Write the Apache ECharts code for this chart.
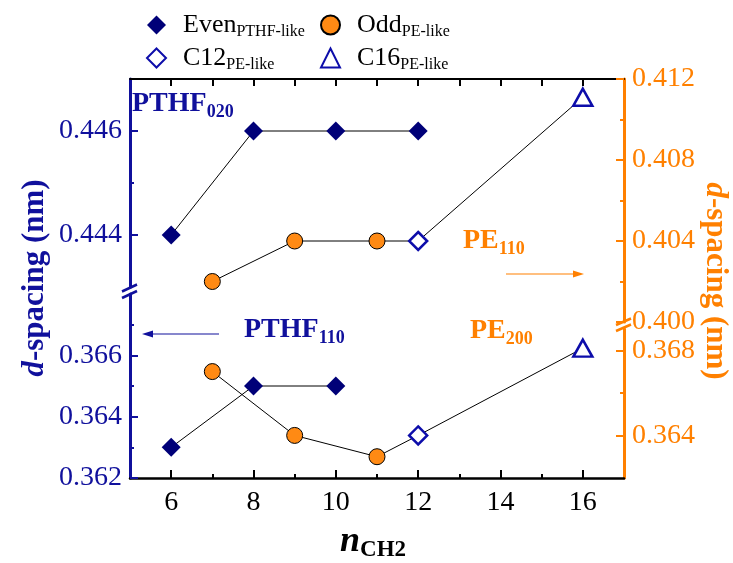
<!DOCTYPE html>
<html>
<head>
<meta charset="utf-8">
<script src="https://cdn.jsdelivr.net/npm/echarts@6.0.0/dist/echarts.min.js"></script>
<style>
  html, body { margin: 0; padding: 0; background: #fff; }
  #chart { width: 733px; height: 563px; }
</style>
</head>
<body>
<div id="chart"></div>
<script>
  // n_CH2 values and d-spacings (nm)
  var nEven = [6, 8, 10, 12];
  var evenPTHF020 = [0.444, 0.446, 0.446, 0.446];
  var nEvenLow = [6, 8, 10];
  var evenPTHF110 = [0.363, 0.365, 0.365];
  var nOdd = [7, 9, 11];
  var oddPE110 = [0.402, 0.404, 0.404];
  var oddPE200 = [0.367, 0.364, 0.363];
  var nC12 = [12];
  var c12PE110 = [0.404];
  var c12PE200 = [0.364];
  var nC16 = [16];
  var c16PE110 = [0.4111];
  var c16PE200 = [0.3681];

  // ticks
  var xMajor = [6, 8, 10, 12, 14, 16];
  var xMinor = [7, 9, 11, 13, 15];
  var xTop = [6, 7, 8, 9, 10, 11, 12, 13, 14, 15, 16];
  var leftUpMajor = [0.444, 0.446];
  var leftUpMinor = [0.445];
  var leftLowMajor = [0.362, 0.364, 0.366];
  var leftLowMinor = [0.363, 0.365, 0.367];
  var rightUpMajor = [0.400, 0.404, 0.408, 0.412];
  var rightUpMinor = [0.402, 0.406, 0.410];
  var rightLowMajor = [0.364, 0.368];
  var rightLowMinor = [0.366];

  var SERIF = 'Liberation Serif';
  var BLUE = '#10109c';
  var NAVY = '#000078';
  var OPEN = '#0d0daa';
  var ORANGE = '#ff8000';
  var DOT = '#ff8a14';

  function pts(xs, ys) {
    return xs.map(function (x, i) { return [x, ys[i]]; });
  }

  var myChart = echarts.init(document.getElementById('chart'));

  function xAx(grid, extra) {
    return Object.assign({
      type: 'value', gridIndex: grid, min: 5, max: 17,
      splitLine: { show: false }
    }, extra);
  }
  function yAx(grid, pos, min, max, color, major, minor, withLabels) {
    var list = [{
      type: 'value', gridIndex: grid, position: pos, min: min, max: max,
      splitLine: { show: false },
      axisLine: { show: true, onZero: false, lineStyle: { color: color, width: 3 } },
      axisTick: { show: true, inside: true, length: 8, customValues: major, lineStyle: { color: color, width: 2 } },
      axisLabel: {
        show: true, customValues: withLabels, color: color, fontSize: 28, fontFamily: SERIF, margin: 8,
        formatter: function (v) { return v.toFixed(3); }
      }
    }, {
      type: 'value', gridIndex: grid, position: pos, min: min, max: max,
      splitLine: { show: false },
      axisLine: { show: false },
      axisTick: { show: true, inside: true, length: 4, customValues: minor, lineStyle: { color: color, width: 2 } },
      axisLabel: { show: false }
    }];
    return list;
  }

  var yAxes = []
    .concat(yAx(0, 'left', 0.443, 0.447, BLUE, leftUpMajor, leftUpMinor, leftUpMajor))
    .concat(yAx(1, 'left', 0.362, 0.368, BLUE, leftLowMajor, leftLowMinor, leftLowMajor))
    .concat(yAx(2, 'right', 0.400, 0.412, ORANGE, rightUpMajor, rightUpMinor, rightUpMajor))
    .concat(yAx(3, 'right', 0.362, 0.369, ORANGE, rightLowMajor, rightLowMinor, rightLowMajor));
  // y axis indices: 0 left-up, 2 left-low, 4 right-up, 6 right-low

  var evenStyle = { symbol: 'diamond', symbolSize: 19, itemStyle: { color: NAVY, opacity: 1 } };
  var oddStyle = { symbol: 'circle', symbolSize: 16, itemStyle: { color: DOT, borderColor: '#000', borderWidth: 1, opacity: 1 } };
  var c12Style = { symbol: 'diamond', symbolSize: 18, itemStyle: { color: '#fff', borderColor: OPEN, borderWidth: 2.5, opacity: 1 } };
  var c16Style = { symbol: 'triangle', symbolSize: [19, 17], itemStyle: { color: '#fff', borderColor: OPEN, borderWidth: 2.5, opacity: 1 } };

  function line(xi, yi, data) {
    return { type: 'line', xAxisIndex: xi, yAxisIndex: yi, data: data, showSymbol: false, symbol: 'none',
      lineStyle: { color: '#000', width: 1 }, z: 1 };
  }
  function dots(name, style, xi, yi, data) {
    return Object.assign({ type: 'scatter', name: name, xAxisIndex: xi, yAxisIndex: yi, data: data, z: 3 }, style);
  }

  var subs = { Even: 'PTHF-like', Odd: 'PE-like', C12: 'PE-like', C16: 'PE-like' };
  var legendText = {
    fontFamily: SERIF, color: '#000', padding: [0, 0, 0, 12],
    rich: {
      m: { fontSize: 26, lineHeight: 30, fontFamily: SERIF, color: '#000' },
      s: { fontSize: 16, lineHeight: 15, verticalAlign: 'bottom', fontFamily: SERIF, color: '#000' }
    }
  };
  function legendFmt(name) { return '{m|' + name + '}{s|' + subs[name] + '}'; }

  function label(x, y, main, sub, color) {
    return {
      type: 'text', x: x, y: y, z: 10,
      style: {
        text: '{a|' + main + '}{b|' + sub + '}', fill: color, align: 'left', verticalAlign: 'top',
        rich: {
          a: { fontSize: 28, lineHeight: 34, fontWeight: 'bold', fontFamily: SERIF, fill: color },
          b: { fontSize: 18, lineHeight: 18, verticalAlign: 'bottom', fontWeight: 'bold', fontFamily: SERIF, fill: color }
        }
      }
    };
  }
  function seg(x1, y1, x2, y2, color, w) {
    return { type: 'line', z: 10, shape: { x1: x1, y1: y1, x2: x2, y2: y2 }, style: { stroke: color, lineWidth: w } };
  }
  function head(points, color) {
    return { type: 'polygon', z: 10, shape: { points: points }, style: { fill: color } };
  }

  var option = {
    animation: false,
    grid: [
      { left: 130, width: 494, top: 79, height: 208 },
      { left: 130, width: 494, top: 294, height: 184 },
      { left: 130, width: 494, top: 79, height: 243 },
      { left: 130, width: 494, top: 329, height: 149 }
    ],
    xAxis: [
      xAx(0, { position: 'top', axisLine: { onZero: false, lineStyle: { color: '#000', width: 2 } },
        axisTick: { inside: true, length: 7, customValues: xTop, lineStyle: { color: '#000', width: 2 } },
        axisLabel: { show: false } }),
      xAx(1, { position: 'bottom', axisLine: { onZero: false, lineStyle: { color: '#000', width: 2.5 } },
        axisTick: { inside: true, length: 8, customValues: xMajor, lineStyle: { color: '#000', width: 2 } },
        axisLabel: { customValues: xMajor, fontSize: 28, fontFamily: SERIF, color: '#000', margin: 11 } }),
      xAx(2, { show: false }),
      xAx(3, { show: false }),
      xAx(1, { position: 'bottom', axisLine: { show: false },
        axisTick: { inside: true, length: 4, customValues: xMinor, lineStyle: { color: '#000', width: 2 } },
        axisLabel: { show: false } })
    ],
    yAxis: yAxes,
    legend: [
      { data: ['Even', 'C12'], orient: 'vertical', left: 141, top: 7, itemWidth: 19, itemHeight: 19, itemGap: 5,
        selectedMode: false, formatter: legendFmt, textStyle: legendText },
      { data: ['Odd', 'C16'], orient: 'vertical', left: 315, top: 7, itemWidth: 19, itemHeight: 19, itemGap: 5,
        selectedMode: false, formatter: legendFmt, textStyle: legendText }
    ],
    series: [
      line(0, 0, pts(nEven, evenPTHF020)),
      line(1, 2, pts(nEvenLow, evenPTHF110)),
      line(2, 4, pts(nOdd.concat(nC12, nC16), oddPE110.concat(c12PE110, c16PE110))),
      line(3, 6, pts(nOdd.concat(nC12, nC16), oddPE200.concat(c12PE200, c16PE200))),
      dots('Even', evenStyle, 0, 0, pts(nEven, evenPTHF020)),
      dots('Even', evenStyle, 1, 2, pts(nEvenLow, evenPTHF110)),
      dots('Odd', oddStyle, 2, 4, pts(nOdd, oddPE110)),
      dots('Odd', oddStyle, 3, 6, pts(nOdd, oddPE200)),
      dots('C12', c12Style, 2, 4, pts(nC12, c12PE110)),
      dots('C12', c12Style, 3, 6, pts(nC12, c12PE200)),
      dots('C16', c16Style, 2, 4, pts(nC16, c16PE110)),
      dots('C16', c16Style, 3, 6, pts(nC16, c16PE200))
    ],
    graphic: [
      // axis breaks
      seg(122, 291.5, 137, 284.5, BLUE, 2.5),
      seg(122, 298, 137, 291, BLUE, 2.5),
      seg(616, 325, 631, 318.5, ORANGE, 2.5),
      seg(616, 331, 631, 324.5, ORANGE, 2.5),
      // annotations
      label(132, 87, 'PTHF', '020', BLUE),
      label(244, 313, 'PTHF', '110', BLUE),
      label(463, 224, 'PE', '110', ORANGE),
      label(470, 314, 'PE', '200', ORANGE),
      seg(219, 334, 150, 334, BLUE, 1.2),
      head([[142, 334], [153, 330.5], [153, 337.5]], BLUE),
      seg(506, 274, 575, 274, ORANGE, 1.2),
      head([[584, 274], [573, 270.5], [573, 277.5]], ORANGE),
      // axis titles
      {
        type: 'text', x: 35, y: 278, rotation: Math.PI / 2, z: 10,
        style: {
          text: '{i|d}{r|-spacing (nm)}', align: 'center', verticalAlign: 'middle',
          rich: {
            i: { fontSize: 31, fontWeight: 'bold', fontStyle: 'italic', fontFamily: SERIF, fill: BLUE },
            r: { fontSize: 31, fontWeight: 'bold', fontFamily: SERIF, fill: BLUE }
          }
        }
      },
      {
        type: 'text', x: 715, y: 281, rotation: -Math.PI / 2, z: 10,
        style: {
          text: '{i|d}{r|-spacing (nm)}', align: 'center', verticalAlign: 'middle',
          rich: {
            i: { fontSize: 31, fontWeight: 'bold', fontStyle: 'italic', fontFamily: SERIF, fill: ORANGE },
            r: { fontSize: 31, fontWeight: 'bold', fontFamily: SERIF, fill: ORANGE }
          }
        }
      },
      {
        type: 'text', x: 340, y: 522, z: 10,
        style: {
          text: '{i|n}{s|CH2}', align: 'left', verticalAlign: 'top',
          rich: {
            i: { fontSize: 36, lineHeight: 40, fontWeight: 'bold', fontStyle: 'italic', fontFamily: SERIF, fill: '#000' },
            s: { fontSize: 23, lineHeight: 22, verticalAlign: 'bottom', fontWeight: 'bold', fontFamily: SERIF, fill: '#000' }
          }
        }
      }
    ]
  };

  myChart.setOption(option);
</script>
</body>
</html>
